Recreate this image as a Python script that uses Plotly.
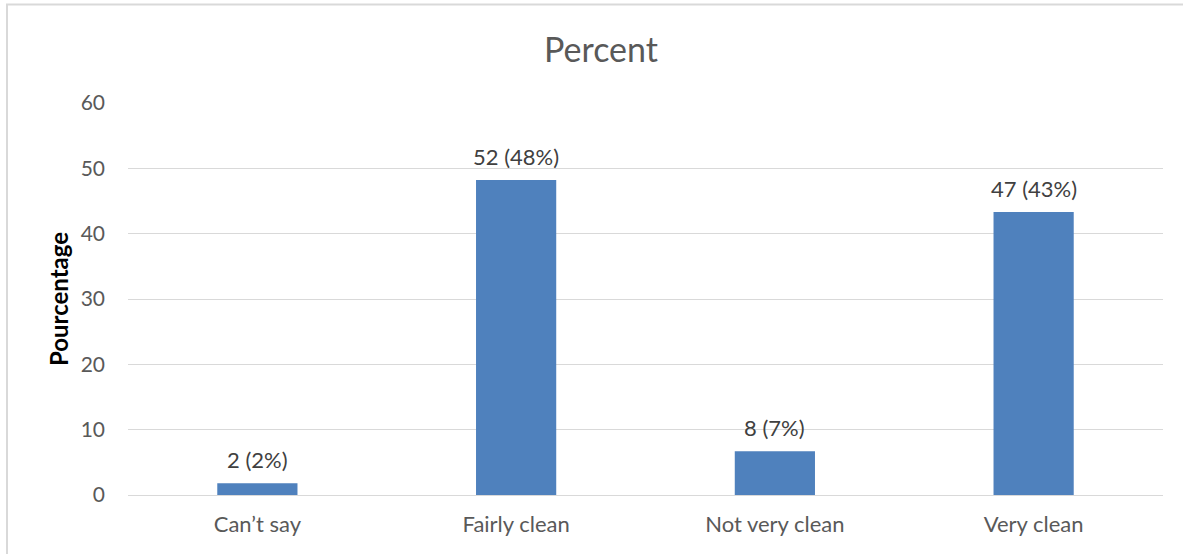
import plotly.graph_objects as go

# Survey responses on cleanliness
categories = ["Can’t say", "Fairly clean", "Not very clean", "Very clean"]
counts = [2, 52, 8, 47]
percent = [1.8, 48.2, 6.7, 43.3]
y_ticks = [0, 10, 20, 30, 40, 50, 60]

labels = [f"{c} ({round(p)}%)" for c, p in zip(counts, percent)]

FONT = "Lato, 'Open Sans', sans-serif"
TEXT = "#595959"

fig = go.Figure(
    go.Bar(
        x=categories,
        y=percent,
        marker=dict(color="#4F81BD", line=dict(width=0)),
        hoverinfo="x+y",
    )
)

# value labels above each bar
for cat, val, lab in zip(categories, percent, labels):
    fig.add_annotation(
        x=cat,
        y=val,
        text=lab,
        showarrow=False,
        yanchor="bottom",
        yshift=8,
        font=dict(family=FONT, size=22, color="#404040"),
    )

# plot area: left 128px, right 1163px, top 103px, bottom 495px
W, H = 1183, 554
L, R, T, B = 128, 20, 103, 59
pw, ph = W - L - R, H - T - B

def px(x):
    return (x - L) / pw

def py(y):
    return (H - B - y) / ph

fig.update_layout(
    width=W,
    height=H,
    margin=dict(l=L, r=R, t=T, b=B),
    paper_bgcolor="white",
    plot_bgcolor="white",
    bargap=0.69,
    showlegend=False,
    font=dict(family=FONT, color=TEXT),
    title=dict(
        text="Percent",
        x=0.508,
        xanchor="center",
        y=1 - 50 / H,
        yanchor="middle",
        font=dict(family=FONT, size=34, color=TEXT),
    ),
    xaxis=dict(
        showgrid=False,
        showline=True,
        linecolor="#D9D9D9",
        linewidth=1,
        ticks="",
        tickfont=dict(family=FONT, size=22, color=TEXT),
        ticklabelstandoff=10,
    ),
    yaxis=dict(
        range=[0, 60],
        tickvals=y_ticks,
        showgrid=True,
        gridcolor="#D9D9D9",
        gridwidth=1,
        zeroline=False,
        showline=False,
        ticks="",
        tickfont=dict(family=FONT, size=21, color=TEXT),
        ticklabelstandoff=22,
        title=dict(
            text="<b>Pourcentage</b>",
            font=dict(family=FONT, size=24, color="#000000"),
            standoff=5,
        ),
    ),
    shapes=[
        dict(
            type="path",
            xref="paper",
            yref="paper",
            path=f"M {px(7)},{py(560)} L {px(7)},{py(4.5)} L {px(1190)},{py(4.5)}",
            line=dict(color="#D9D9D9", width=2),
        )
    ],
)

fig.write_html("out.html")
